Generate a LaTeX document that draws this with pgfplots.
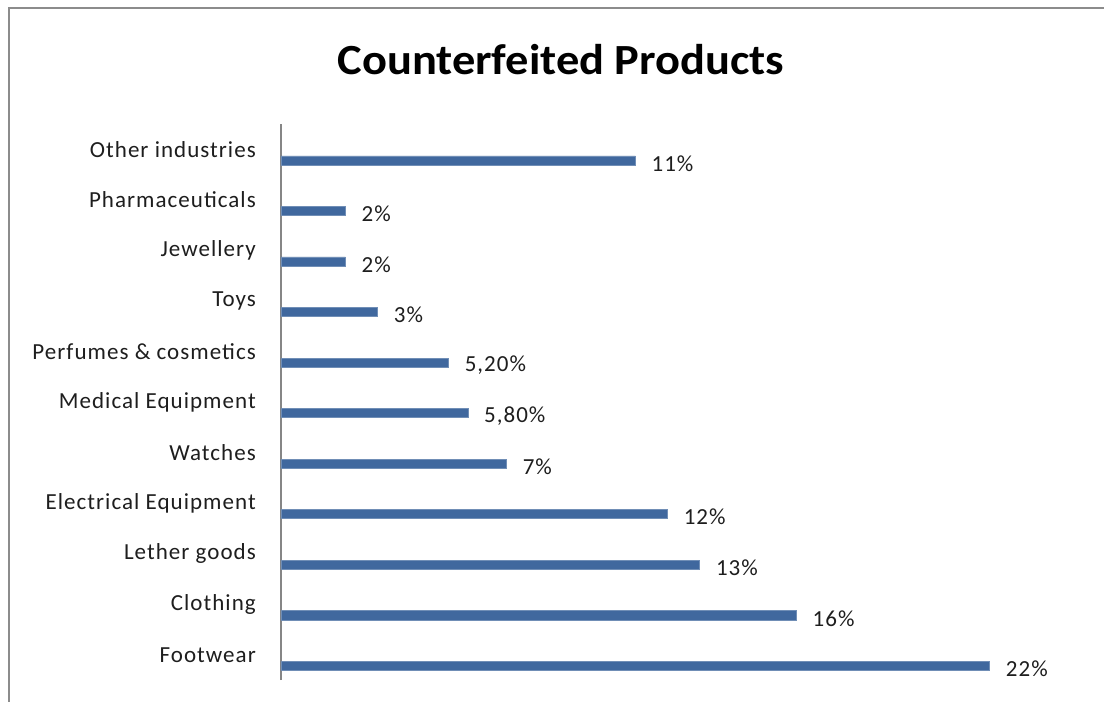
\documentclass[border=0pt]{standalone}
\usepackage{pgfplots}
\pgfplotsset{compat=1.18}
\usepackage{fontspec}
\setmainfont{Carlito}
\newfontfamily\lbl[LetterSpace=4.5]{Carlito}
\definecolor{barblue}{RGB}{64,104,158}
\definecolor{framegray}{RGB}{140,140,140}
\definecolor{axisgray}{RGB}{134,134,134}
\definecolor{txt}{RGB}{30,30,30}
\begin{document}
\begin{tikzpicture}[x=1pt,y=1pt]
\useasboundingbox (0,0) rectangle (1104,702);
\fill[white] (0,0) rectangle (1104,702);
\draw[framegray, line width=1.5pt] (9,0) -- (9,694) -- (1104,694);
\node[font=\fontsize{43}{45}\selectfont\bfseries, text=black, anchor=base, inner sep=0pt, xscale=1.08] at (561,627) {Counterfeited Products};
\begin{axis}[
  at={(281pt,22pt)}, anchor=south west,
  scale only axis, width=773pt, height=556pt,
  xbar, xmin=0, xmax=24, ymin=-0.5, ymax=10.5,
  bar width=0.18, bar shift=-0.22,
  axis x line=none,
  axis y line*=left,
  y axis line style={draw=axisgray, line width=1.2pt, -},
  ytick={0,...,10},
  yticklabels={Footwear,Clothing,Lether goods,Electrical Equipment,Watches,Medical Equipment,Perfumes \& cosmetics,Toys,Jewellery,Pharmaceuticals,Other industries},
  major tick length=0pt,
  yticklabel style={font=\lbl\fontsize{23}{25}\selectfont, text=txt, inner sep=0pt, xshift=-25pt},
  point meta=explicit symbolic,
  nodes near coords,
  every node near coord/.append style={font=\lbl\fontsize{23}{25}\selectfont, text=txt, anchor=west, inner sep=0pt, xshift=16pt, yshift=-3pt},
  clip=false,
]
\addplot[fill=barblue, draw=barblue!75!white, line width=0.6pt] coordinates {
  (22,0) [22\%]
  (16,1) [16\%]
  (13,2) [13\%]
  (12,3) [12\%]
  (7,4) [7\%]
  (5.8,5) [5,80\%]
  (5.2,6) [5,20\%]
  (3,7) [3\%]
  (2,8) [2\%]
  (2,9) [2\%]
  (11,10) [11\%]
};
\end{axis}
\end{tikzpicture}
\end{document}
